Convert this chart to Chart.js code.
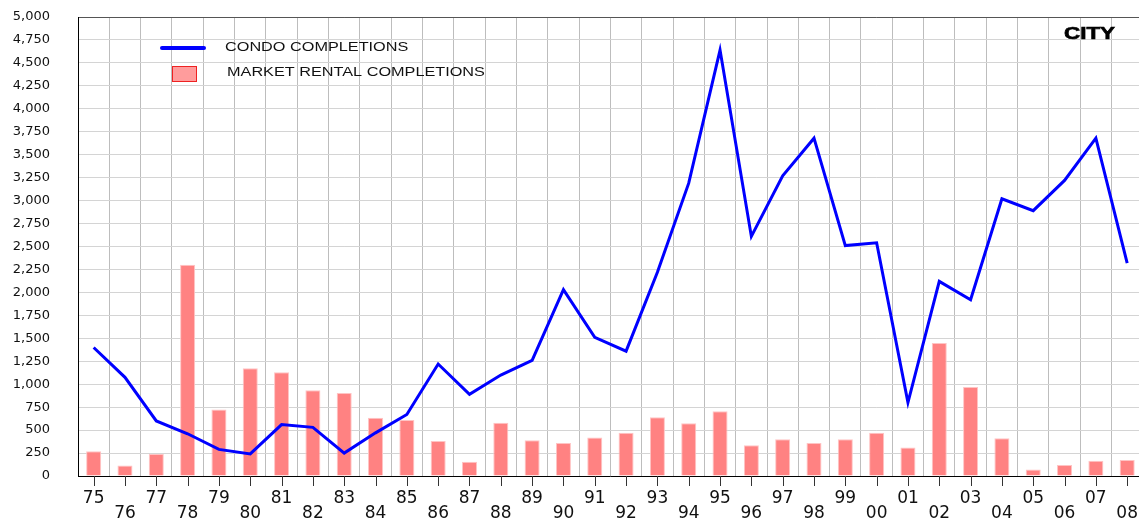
<!DOCTYPE html>
<html>
<head>
    <meta charset="utf-8">
    <title>Condo and rental completions</title>
    <script src="https://cdn.jsdelivr.net/npm/chart.js@4.4.1/dist/chart.umd.min.js"></script>
    <style>
        html, body { margin: 0; padding: 0; overflow: hidden; background: #fff; }
        #wrap { width: 1143px; height: 521px; }
    </style>
</head>
<body>
    <div id="wrap"><canvas id="myChart"></canvas></div>
    <script>
        const years = ['75','76','77','78','79','80','81','82','83','84','85','86','87','88','89','90','91',
                       '92','93','94','95','96','97','98','99','00','01','02','03','04','05','06','07','08'];
        const condo = [1400, 1075, 600, 460, 290, 240, 560, 530, 250, 470, 670, 1220, 890, 1100, 1260, 2030, 1510,
                       1360, 2220, 3190, 4640, 2610, 3270, 3680, 2510, 2540, 800, 2120, 1920, 3020, 2890, 3220, 3680, 2320];
        const rental = [270, 115, 240, 2300, 725, 1175, 1130, 935, 905, 635, 610, 380, 155, 580, 390, 360, 420,
                        470, 640, 575, 705, 335, 400, 360, 400, 470, 310, 1450, 970, 410, 70, 120, 165, 175];
        const yMax = 5000;
        const yStep = 250;

        const font = '"Liberation Sans", Arial, sans-serif';
        const tickFont = '"DejaVu Sans", sans-serif';

        // wide, stretched text like the original
        function wideText(ctx, text, x, y, sx) {
            ctx.save();
            ctx.translate(x, y);
            ctx.scale(sx, 1);
            ctx.fillText(text, 0, 0);
            ctx.restore();
        }

        // tick marks at the category centres, legend and the CITY label
        const extras = {
            id: 'extras',
            afterDraw(chart) {
                const ctx = chart.ctx;
                const x = chart.scales.x;
                const area = chart.chartArea;
                ctx.save();
                ctx.strokeStyle = '#333';
                ctx.lineWidth = 1;
                years.forEach((y, i) => {
                    const px = Math.round(x.getPixelForValue(i)) + 0.5;
                    ctx.beginPath();
                    ctx.moveTo(px, area.bottom);
                    ctx.lineTo(px, area.bottom + 10);
                    ctx.stroke();
                });

                // legend
                ctx.strokeStyle = '#0000ff';
                ctx.lineWidth = 4;
                ctx.lineCap = 'round';
                ctx.beginPath();
                ctx.moveTo(162, 48);
                ctx.lineTo(204, 48);
                ctx.stroke();
                ctx.fillStyle = '#ff9c9c';
                ctx.fillRect(172, 66, 24, 15);
                ctx.strokeStyle = '#ee2222';
                ctx.lineWidth = 1;
                ctx.strokeRect(172.5, 66.5, 24, 15);

                ctx.fillStyle = '#111';
                ctx.font = '12.5px ' + font;
                ctx.textBaseline = 'middle';
                wideText(ctx, 'CONDO COMPLETIONS', 225, 48, 1.3);
                wideText(ctx, 'MARKET RENTAL COMPLETIONS', 227, 73, 1.3);

                ctx.font = 'bold 16px ' + font;
                ctx.fillStyle = '#000';
                ctx.strokeStyle = '#000';
                ctx.lineWidth = 0.6;
                ctx.save();
                ctx.translate(1064, 35);
                ctx.scale(1.4, 1);
                ctx.fillText('CITY', 0, 0);
                ctx.strokeText('CITY', 0, 0);
                ctx.restore();
                ctx.restore();
            }
        };

        const ctx = document.getElementById('myChart').getContext('2d');
        const myChart = new Chart(ctx, {
            data: {
                labels: years,
                datasets: [{
                    type: 'line',
                    label: 'CONDO COMPLETIONS',
                    data: condo,
                    borderColor: '#0000ff',
                    borderWidth: 3,
                    pointRadius: 0,
                    tension: 0,
                    order: 0
                }, {
                    type: 'bar',
                    label: 'MARKET RENTAL COMPLETIONS',
                    data: rental,
                    backgroundColor: '#ff8282',
                    borderColor: '#ffc4c4',
                    borderWidth: 1,
                    barPercentage: 0.48,
                    categoryPercentage: 1,
                    order: 1
                }]
            },
            options: {
                responsive: true,
                maintainAspectRatio: false,
                animation: false,
                layout: { padding: { top: 17, right: 0, left: 0, bottom: 0 } },
                plugins: { legend: { display: false }, tooltip: { enabled: false } },
                scales: {
                    x: {
                        grid: { offset: true, color: '#bdbdbd', tickLength: 10, tickColor: 'rgba(0,0,0,0)' },
                        border: { color: '#000', width: 1 },
                        ticks: {
                            color: '#111',
                            font: { family: tickFont, size: 17, lineHeight: 0.9 },
                            padding: 5,
                            maxRotation: 0,
                            autoSkip: false,
                            callback: (v, i) => i % 2 === 0 ? [years[i], ' '] : [' ', years[i]]
                        },
                        afterFit: s => { s.height = 45; }
                    },
                    y: {
                        min: 0,
                        max: yMax,
                        grid: {
                            tickLength: 24,
                            tickColor: 'rgba(0,0,0,0)',
                            color: c => c.tick && c.tick.value === yMax ? '#555' : '#d4d4d4'
                        },
                        border: { color: '#000', width: 1 },
                        ticks: {
                            stepSize: yStep,
                            color: '#111',
                            font: { family: tickFont, size: 13 },
                            padding: 4,
                            callback: v => v.toLocaleString('en-US')
                        },
                        afterFit: s => { s.width = 78; }
                    }
                }
            },
            plugins: [extras]
        });
    </script>
</body>
</html>
